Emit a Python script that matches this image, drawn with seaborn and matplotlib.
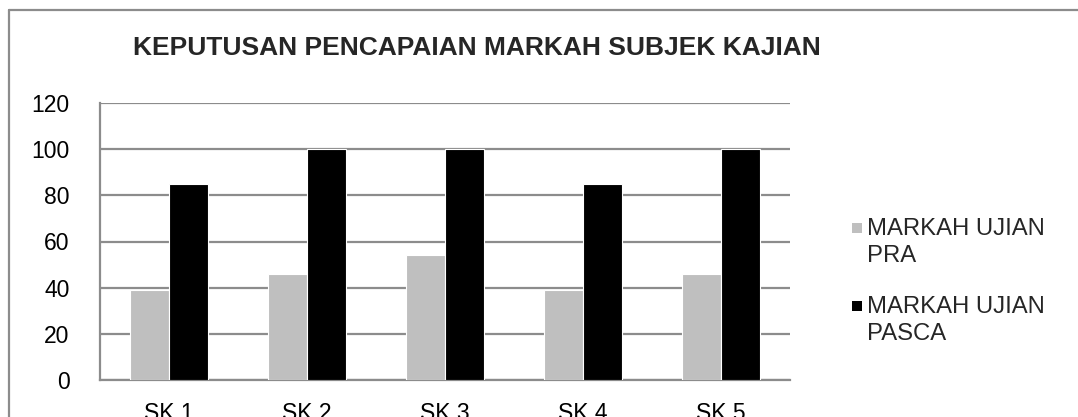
import matplotlib
matplotlib.use("Agg")
import matplotlib.pyplot as plt
import seaborn as sns
import pandas as pd
from matplotlib.patches import Rectangle
from matplotlib.lines import Line2D

categories = ["SK 1", "SK 2", "SK 3", "SK 4", "SK 5"]
series_names = ["MARKAH UJIAN\nPRA", "MARKAH UJIAN\nPASCA"]
pra_values = [39, 46, 54, 39, 46]
pasca_values = [85, 100, 100, 85, 100]
y_ticks = [0, 20, 40, 60, 80, 100, 120]
title = "KEPUTUSAN PENCAPAIAN MARKAH SUBJEK KAJIAN"

df = pd.DataFrame({
    "cat": categories * 2,
    "series": [series_names[0]] * 5 + [series_names[1]] * 5,
    "value": pra_values + pasca_values,
})

sns.set_style("white")
plt.rcParams["font.family"] = ["Liberation Sans", "DejaVu Sans"]

W, H = 1078, 417
fig = plt.figure(figsize=(W / 100, H / 100), dpi=100)
ax = fig.add_axes([100 / W, 1 - 380 / H, 690 / W, 277 / H])

grid_col = "#8c8c8c"
colors = ["#bfbfbf", "#000000"]
sns.barplot(data=df, x="cat", y="value", hue="series", palette=colors,
            width=0.565, gap=0.02, edgecolor="white", linewidth=0.8,
            ax=ax, legend=False, zorder=3)

ax.set_ylim(0, 120)
ax.set_xlim(-0.5, 4.5)
ax.set_yticks(y_ticks)
ax.yaxis.grid(True, color=grid_col, linewidth=1.6, zorder=0)
ax.set_axisbelow(True)
ax.set_xlabel("")
ax.set_ylabel("")
for s in ["top", "right"]:
    ax.spines[s].set_visible(False)
for s in ["left", "bottom"]:
    ax.spines[s].set_color(grid_col)
    ax.spines[s].set_linewidth(1.6)
ax.tick_params(axis="both", length=0, labelsize=16.5, colors="#000000")
ax.tick_params(axis="y", pad=22)
ax.tick_params(axis="x", pad=16)

fig.text(477 / W, 1 - 48 / H, title, fontsize=19, fontweight="bold",
         ha="center", va="center")

# legend: small square aligned with first line of each wrapped label
legend_tops = [218, 296]
for name, col, top in zip(series_names, colors, legend_tops):
    fig.add_artist(Rectangle((852 / W, 1 - (top + 15) / H), 10 / W, 10 / H,
                             transform=fig.transFigure, facecolor=col,
                             edgecolor="none"))
    fig.text(867 / W, 1 - top / H, name, fontsize=17.2, ha="left", va="top",
             linespacing=1.28)

# outer chart border (only top and left visible in the crop)
fig.add_artist(Line2D([9 / W, 9 / W], [0, 1 - 10 / H],
                      transform=fig.transFigure, color=grid_col, linewidth=1.6))
fig.add_artist(Line2D([9 / W, 1], [1 - 10 / H, 1 - 10 / H],
                      transform=fig.transFigure, color=grid_col, linewidth=1.6))

fig.savefig("out.png", dpi=100)
